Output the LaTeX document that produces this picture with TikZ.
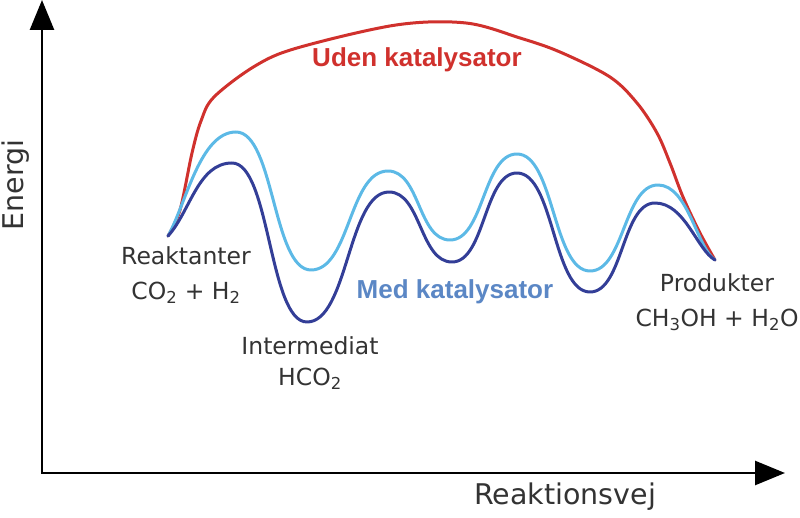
\documentclass[tikz,border=0pt]{standalone}
\usepackage{fontspec}
\setmainfont{DejaVu Sans}
\newfontfamily\catfont{Liberation Sans}
\usepackage{tikz}
\usetikzlibrary{arrows.meta,positioning}
\definecolor{nocat}{HTML}{D0312D}
\definecolor{catlight}{HTML}{5CB9E6}
\definecolor{catdark}{HTML}{333E97}
\definecolor{catlabel}{HTML}{5B87C5}
\definecolor{txtgray}{HTML}{333333}

\begin{document}
\begin{tikzpicture}[x=1pt,y=-1pt,
				axis/.style={line width=2.6pt,draw=black,
					{Triangle[length=30pt,width=24pt]}-{Triangle[length=30pt,width=24pt]}},
				curve/.style={line width=3pt,line join=round,line cap=round},
				lbl/.style={text=txtgray,inner sep=0pt,font=\fontsize{23.5}{28}\selectfont},
				axlbl/.style={text=txtgray,inner sep=0pt,font=\fontsize{28.5}{32}\selectfont},
				catlbl/.style={inner sep=0pt,font=\catfont\bfseries\fontsize{26}{30}\selectfont},
				node distance=37pt,on grid
			]
			\useasboundingbox (0,0) rectangle (800,518);
			% axes
			\coordinate (origin) at (42,473);
			\coordinate (ytop) at (42,0);
			\coordinate (xend) at (785,473);
			\draw[axis] (ytop) |- (xend);
			\node[axlbl,rotate=90] (energy) at (16,185) {Energi};
			\node[axlbl] (path) at (565,497) {Reaktionsvej};
			% start and end of the reaction
			\coordinate (start) at (168,236);
			\coordinate (finish) at (715,260);
			% without catalyst
			\draw[curve,nocat] plot[smooth,tension=0.55] coordinates {(start) (180,210) (192,153)
				(201,121) (214,97) (255,66) (297,48) (396,25) (466,23) (520,38) (560,52)
				(610,77) (637,103) (657,133) (670,163) (683,197) (700,233) (finish)};
			% with catalyst, upper curve
			\draw[curve,catlight] (start)
				.. controls +(18,-32) and +(-36,0) .. (236,132)
				.. controls +(38,0) and +(-38,0) .. (311,270)
				.. controls +(39,0) and +(-39,0) .. (388,171)
				.. controls +(32,0) and +(-32,0) .. (450,240)
				.. controls +(34,0) and +(-34,0) .. (517,154)
				.. controls +(37,0) and +(-37,0) .. (590,271)
				.. controls +(34,0) and +(-34,0) .. (658,185)
				.. controls +(30,0) and +(-18,-12) .. (finish);
			% with catalyst, lower curve
			\draw[curve,catdark] (start)
				.. controls +(22,-24) and +(-34,0) .. (232,163)
				.. controls +(38,0) and +(-38,0) .. (307,322)
				.. controls +(41,0) and +(-41,0) .. (389,192)
				.. controls +(32,0) and +(-32,0) .. (452,262)
				.. controls +(33,0) and +(-33,0) .. (517,173)
				.. controls +(37,0) and +(-37,0) .. (590,292)
				.. controls +(33,0) and +(-33,0) .. (655,203)
				.. controls +(30,0) and +(-18,-10) .. (finish);
			% labels
			\node[catlbl,nocat] (uden) at (417,60) {Uden katalysator};
			\node[catlbl,catlabel] (med) at (455,292) {Med katalysator};
			\node[lbl] (reak) at (186,256) {Reaktanter};
			\node[lbl] (reakmol) [below=37pt of reak] {CO\textsubscript{2} + H\textsubscript{2}};
			\node[lbl] (inter) at (310,346) {Intermediat};
			\node[lbl] (intermol) [below=33pt of inter] {HCO\textsubscript{2}};
			\node[lbl] (prod) at (717,283) {Produkter};
			\node[lbl] (prodmol) [below=37pt of prod] {CH\textsubscript{3}OH + H\textsubscript{2}O};
		\end{tikzpicture}
\end{document}
